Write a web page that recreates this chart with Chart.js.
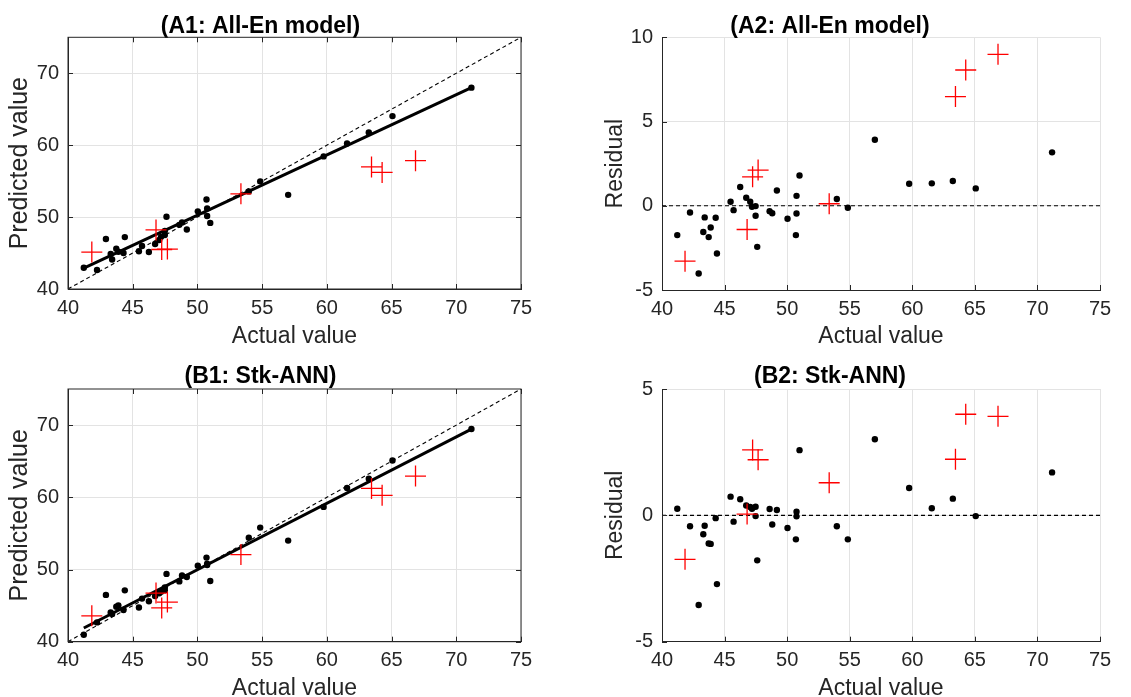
<!DOCTYPE html>
<html><head><meta charset="utf-8">
<script src="https://cdn.jsdelivr.net/npm/chart.js@4.4.1/dist/chart.umd.min.js"></script>
<style>
html,body{margin:0;padding:0;background:#fff;overflow:hidden;width:1131px;height:697px;}
canvas{position:absolute;}
</style></head><body>
<canvas id="a1" width="560" height="350" style="left:0;top:0"></canvas>
<canvas id="a2" width="571" height="350" style="left:560px;top:0"></canvas>
<canvas id="b1" width="560" height="360" style="left:0;top:350px"></canvas>
<canvas id="b2" width="571" height="360" style="left:560px;top:350px"></canvas>
<script>
// ---- data ----
const actualBlack = [41.22, 42.24, 42.93, 43.30, 43.41, 43.73, 43.89, 44.29, 44.39, 45.48, 45.72, 46.25, 46.73, 47.05, 47.19, 47.48, 47.48, 47.61, 48.60, 48.81, 49.18, 50.03, 50.75, 50.75, 50.70, 50.99, 53.97, 54.85, 57.01, 59.75, 61.56, 63.24, 65.07, 71.17];
const predA_black = [42.96, 42.64, 46.95, 44.86, 44.10, 45.59, 45.18, 45.00, 47.22, 45.24, 45.98, 45.14, 46.25, 46.81, 47.25, 47.50, 48.07, 50.05, 48.92, 49.25, 48.27, 50.80, 50.16, 51.21, 52.44, 49.19, 53.57, 54.97, 53.09, 58.44, 60.23, 61.77, 64.04, 68.00];
const residA_black = [-1.74, -0.40, -4.02, -1.56, -0.69, -1.86, -1.29, -0.71, -2.83, 0.24, -0.26, 1.11, 0.48, 0.24, -0.06, -0.02, -0.59, -2.44, -0.32, -0.44, 0.91, -0.77, 0.59, -0.46, -1.74, 1.80, 0.40, -0.12, 3.92, 1.31, 1.33, 1.47, 1.03, 3.17];
const predB_black = [40.96, 42.67, 46.48, 44.05, 43.82, 44.84, 45.02, 44.40, 47.11, 44.74, 45.97, 45.61, 46.34, 46.72, 46.93, 47.14, 47.51, 49.39, 48.35, 49.17, 48.97, 50.53, 50.61, 50.79, 51.65, 48.41, 54.40, 55.80, 54.00, 58.67, 61.28, 62.58, 65.10, 69.47];
const residB_black = [0.26, -0.43, -3.55, -0.75, -0.41, -1.11, -1.13, -0.11, -2.72, 0.74, -0.25, 0.64, 0.39, 0.33, 0.26, 0.34, -0.03, -1.78, 0.25, -0.36, 0.21, -0.50, 0.14, -0.04, -0.95, 2.58, -0.43, -0.95, 3.01, 1.08, 0.28, 0.66, -0.03, 1.70];

const actualRed = [41.84, 46.80, 47.24, 47.68, 53.36, 63.45, 64.27, 66.85];
const predA_red = [45.13, 48.22, 45.49, 45.55, 53.24, 56.97, 56.21, 57.84];
const residA_red = [-3.29, -1.41, 1.72, 2.12, 0.12, 6.48, 8.06, 8.99];
const predB_red = [43.58, 46.74, 44.68, 45.49, 52.07, 61.23, 60.27, 62.94];
const residB_red = [-1.74, 0.05, 2.59, 2.20, 1.29, 2.22, 4.00, 3.92];

const fitX = [41.22, 71.17];
const fitA_y = [42.9, 68.0];
const fitB_y = [41.9, 69.45];
const refX = [40, 75];
const diagY = [40, 75];
const zeroY = [0, 0];

const titles = ['(A1: All-En model)', '(A2: All-En model)', '(B1: Stk-ANN)', '(B2: Stk-ANN)'];
const xLabel = 'Actual value';
const yLabelPred = 'Predicted value';
const yLabelRes = 'Residual';

// ---- helpers ----
const FONT = "'Liberation Sans', Arial, sans-serif";
const AX = '#262626';
const pts = (xs, ys) => xs.map((x, i) => ({x, y: ys[i]}));

const innerTicks = {
  id: 'innerTicks',
  afterDatasetsDraw(chart, args, opts) {
    const {ctx, chartArea: {left, right, top, bottom}, scales: {x, y}} = chart;
    const L = 5;
    ctx.save();
    ctx.strokeStyle = AX; ctx.lineWidth = 1;
    ctx.beginPath();
    x.ticks.forEach(t => {
      const p = Math.round(x.getPixelForValue(t.value)) + 0.5;
      ctx.moveTo(p, bottom); ctx.lineTo(p, bottom - L);
      if (opts.box) { ctx.moveTo(p, top); ctx.lineTo(p, top + L); }
    });
    y.ticks.forEach(t => {
      const p = Math.round(y.getPixelForValue(t.value)) + 0.5;
      ctx.moveTo(left, p); ctx.lineTo(left + L, p);
      if (opts.box) { ctx.moveTo(right, p); ctx.lineTo(right - L, p); }
    });
    ctx.stroke();
    if (opts.box) {
      ctx.strokeRect(left, top, right - left, bottom - top);
    }
    ctx.restore();
  }
};

function panel(id, o) {
  const datasets = [
    {type: 'scatter', data: pts(actualRed, o.redY), pointStyle: 'cross', pointRadius: 10.5, borderColor: '#ff0000', borderWidth: 1.3, backgroundColor: '#ff0000'},
  ];
  if (o.fitY) datasets.push({type: 'line', data: pts(fitX, o.fitY), borderColor: '#000', borderWidth: 3, pointRadius: 0, tension: 0});
  datasets.push({type: 'scatter', data: pts(actualBlack, o.blackY), pointStyle: 'circle', pointRadius: 3.2, backgroundColor: '#000', borderWidth: 0});
  datasets.push({type: 'line', data: pts(refX, o.refY), borderColor: '#000', borderWidth: 1.1, borderDash: [4, 3], pointRadius: 0, tension: 0});

  new Chart(document.getElementById(id), {
    data: {datasets},
    plugins: [innerTicks],
    options: {
      responsive: false, animation: false, events: [],
      layout: {padding: {left: 0, right: o.padRight, top: 0, bottom: 0}},
      plugins: {
        legend: {display: false}, tooltip: {enabled: false},
        title: {display: true, text: o.title, color: '#000',
          font: {family: FONT, size: 23, weight: 'bold', lineHeight: 0.9},
          padding: {top: o.tTop, bottom: o.tBot}},
        innerTicks: {box: o.box}
      },
      scales: {
        x: {type: 'linear', position: 'bottom', min: 40, max: 75,
          ticks: {stepSize: 5, color: AX, padding: 7, font: {family: FONT, size: 20}, maxRotation: 0},
          grid: {color: '#e3e3e3', drawTicks: false, lineWidth: 1},
          border: {display: true, color: AX, width: 1},
          title: {display: true, text: xLabel, color: AX, font: {family: FONT, size: 23}, padding: {top: 0, bottom: o.xTitleBot}},
          afterFit: s => { s.height = o.xH; }
        },
        y: {type: 'linear', position: 'left', min: o.yMin, max: o.yMax,
          ticks: {stepSize: o.yStep, includeBounds: o.yBounds, color: AX, padding: 9, font: {family: FONT, size: 20}},
          grid: {color: '#e3e3e3', drawTicks: false, lineWidth: 1},
          border: {display: true, color: AX, width: 1},
          title: {display: true, text: o.yLabel, color: AX, font: {family: FONT, size: o.yLabelSize}, padding: {top: o.yTitleTop, bottom: 0}},
          afterFit: s => { s.width = o.yW; }
        }
      }
    }
  });
}

panel('a1', {title: titles[0], redY: predA_red, blackY: predA_black, fitY: fitA_y, refY: diagY,
  box: true, yMin: 40, yMax: 75, yStep: 10, yBounds: false, yLabel: yLabelPred, yLabelSize: 25,
  padRight: 39, yW: 68, xH: 61, xTitleBot: 0, yTitleTop: 5, tTop: 16.6, tBot: 0});
panel('a2', {title: titles[1], redY: residA_red, blackY: residA_black, fitY: null, refY: zeroY,
  box: false, yMin: -5, yMax: 10, yStep: 5, yBounds: true, yLabel: yLabelRes, yLabelSize: 23,
  padRight: 31, yW: 102, xH: 60, xTitleBot: 0, yTitleTop: 42, tTop: 16.6, tBot: 0});
panel('b1', {title: titles[2], redY: predB_red, blackY: predB_black, fitY: fitB_y, refY: diagY,
  box: true, yMin: 40, yMax: 75, yStep: 10, yBounds: false, yLabel: yLabelPred, yLabelSize: 25,
  padRight: 39, yW: 68, xH: 68.3, xTitleBot: 7.7, yTitleTop: 5, tTop: 16.1, tBot: 2.2});
panel('b2', {title: titles[3], redY: residB_red, blackY: residB_black, fitY: null, refY: zeroY,
  box: false, yMin: -5, yMax: 5, yStep: 5, yBounds: true, yLabel: yLabelRes, yLabelSize: 23,
  padRight: 31, yW: 102, xH: 68.3, xTitleBot: 7.7, yTitleTop: 42, tTop: 16.1, tBot: 2.2});
</script>
</body></html>
